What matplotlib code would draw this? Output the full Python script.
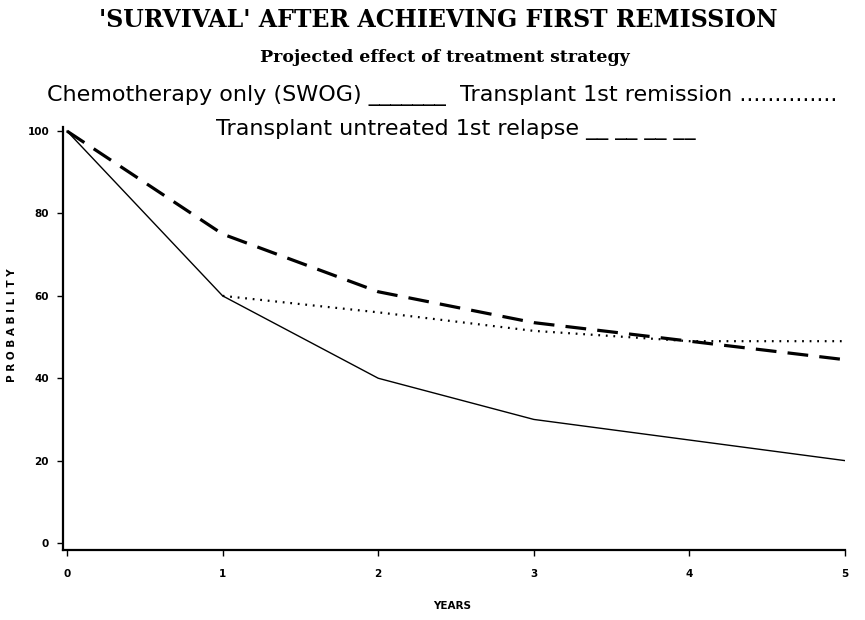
import matplotlib
matplotlib.use("Agg")
import matplotlib.pyplot as plt

years = [0, 1, 2, 3, 4, 5]
chemo = [100, 60, 40, 30, 25, 20]
tx_remission_years = [1, 2, 3, 4, 5]
tx_remission = [60, 56, 51.5, 49, 49]
tx_relapse = [100, 75, 61, 53.5, 49, 44.5]
y_ticks = [0, 20, 40, 60, 80, 100]

fig = plt.figure(figsize=(8.65, 6.2), dpi=100)
ax = fig.add_axes([63/865, 1-550/620, (845-63)/865, (550-127)/620])

ax.plot(years, chemo, color="black", lw=1.0, solid_joinstyle="miter")
ax.plot(tx_remission_years, tx_remission, color="black", lw=1.6, dashes=(0.8, 2.6))
ax.plot(years, tx_relapse, color="black", lw=2.3, dashes=(6.5, 3.5))

ax.set_xlim(-0.026, 5.0)
ax.set_ylim(-1.7, 101)
ax.set_xticks(years)
ax.set_yticks(y_ticks)
ax.set_xticklabels([str(v) for v in years], fontsize=7.5, fontweight="bold")
ax.set_yticklabels([str(v) for v in y_ticks], fontsize=7.5, fontweight="bold")
ax.tick_params(axis="both", direction="out", length=4, width=1, pad=6)
ax.tick_params(axis="x", pad=10)
for s in ["top", "right"]:
    ax.spines[s].set_visible(False)
for s in ["left", "bottom"]:
    ax.spines[s].set_linewidth(1.6)
ax.spines["left"].set_bounds(-1.7, 101)

fig.text(12/865, 1-325/620, "P R O B A B I L I T Y", rotation=90, fontsize=7.5, fontweight="bold",
         ha="center", va="center")
fig.text(452/865, 1-606/620, "YEARS", fontsize=7.5, fontweight="bold", ha="center", va="center")

fig.text(438/865, 1-20/620, "'SURVIVAL' AFTER ACHIEVING FIRST REMISSION", family="DejaVu Serif",
         fontsize=17, fontweight="bold", ha="center", va="center")
fig.text(445/865, 1-58/620, "Projected effect of treatment strategy", family="DejaVu Serif",
         fontsize=12.5, fontweight="bold", ha="center", va="center")
fig.text(442/865, 1-96/620, "Chemotherapy only (SWOG) _______  Transplant 1st remission ..............",
         family="DejaVu Sans", fontsize=16, ha="center", va="center")
fig.text(456/865, 1-130/620, "Transplant untreated 1st relapse __ __ __ __",
         family="DejaVu Sans", fontsize=16, ha="center", va="center")

fig.savefig("out.png", dpi=100)
